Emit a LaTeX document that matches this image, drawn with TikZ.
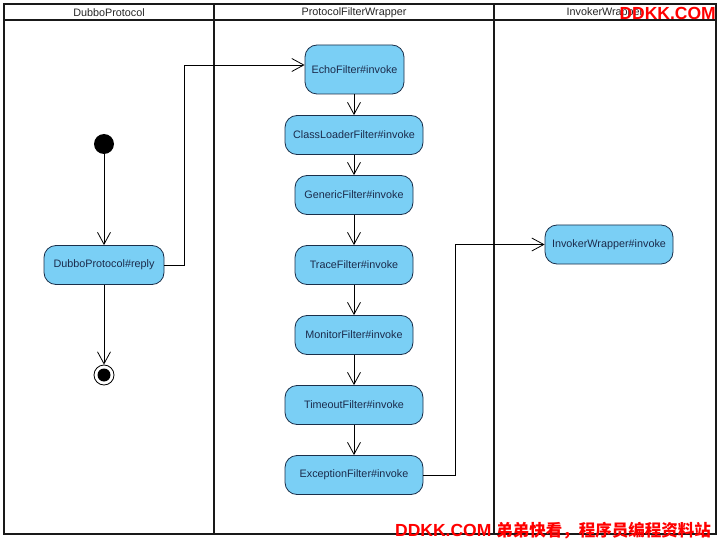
\documentclass[tikz,border=0pt]{standalone}
\usepackage{fontspec}
\setmainfont{Liberation Sans}
\newfontfamily\cjk{Noto Sans CJK SC}
\usetikzlibrary{arrows.meta}
\definecolor{actfill}{HTML}{7ACFF5}
\definecolor{actdraw}{HTML}{1A2F4A}
\definecolor{acttext}{HTML}{1B2B4B}
\definecolor{wm}{HTML}{FF0000}
\begin{document}
\begin{tikzpicture}[x=1pt,y=-1pt,
  act/.style={draw=actdraw, fill=actfill, rounded corners=12pt, line width=0.8pt,
    text=acttext, font=\fontsize{10.8}{12}\selectfont, inner sep=0pt, minimum height=39pt},
  flow/.style={draw=black, line width=0.8pt, -{Straight Barb[length=12pt,width=13pt]}},
  lane/.style={line width=2pt, draw=black!90},
  hdr/.style={font=\fontsize{10.8}{12}\selectfont, text=black!85, inner sep=0pt},
  wmark/.style={font=\fontsize{17.5}{20}\selectfont\bfseries, text=wm, inner sep=0pt}]
\useasboundingbox (0,0) rectangle (720,540);
\fill[white] (0,0) rectangle (720,540);
% swimlanes
\draw[lane] (4,4) rectangle (716,534);
\draw[lane] (4,20) -- (716,20);
\draw[lane] (214,4) -- (214,534);
\draw[lane] (494,4) -- (494,534);
\node[hdr] (h1) at (109,12.5) {DubboProtocol};
\node[hdr] (h2) at (354,12.5) {ProtocolFilterWrapper};
\node[hdr] (h3) at (605,12.5) {InvokerWrapper};
% DubboProtocol lane
\node[circle, fill=black, minimum size=20pt, inner sep=0pt] (start) at (104,144) {};
\node[act, minimum width=120pt] (reply) at (104,265) {DubboProtocol\#reply};
\node[circle, draw=black, line width=0.8pt, fill=white, minimum size=20pt, inner sep=0pt] (end) at (104,375) {};
\node[circle, fill=black, minimum size=13pt, inner sep=0pt] (endin) at (end) {};
% ProtocolFilterWrapper lane
\node[act, minimum width=99pt, minimum height=49pt] (echo) at (354.5,69.5) {EchoFilter\#invoke};
\node[act, minimum width=138pt] (cl) at (354,135) {ClassLoaderFilter\#invoke};
\node[act, minimum width=118pt] (gen) at (354,195) {GenericFilter\#invoke};
\node[act, minimum width=118pt] (trace) at (354,265) {TraceFilter\#invoke};
\node[act, minimum width=118pt] (mon) at (354,335) {MonitorFilter\#invoke};
\node[act, minimum width=138pt] (tmo) at (354,405) {TimeoutFilter\#invoke};
\node[act, minimum width=138pt] (exc) at (354,475) {ExceptionFilter\#invoke};
% InvokerWrapper lane
\node[act, minimum width=128pt] (inv) at (609,244.5) {InvokerWrapper\#invoke};
% connectors
\draw[flow] (start) -- (reply);
\draw[flow] (reply) -- (end);
\draw[flow] (reply.east) -- ++(20,0) |- ([yshift=4.5pt]echo.west);
\draw[flow] (echo.south -| cl.north) -- (cl.north);
\draw[flow] (cl) -- (gen);
\draw[flow] (gen) -- (trace);
\draw[flow] (trace) -- (mon);
\draw[flow] (mon) -- (tmo);
\draw[flow] (tmo) -- (exc);
\draw[flow] (exc.east) -- ++(32,0) |- (inv.west);
% watermarks
\node[wmark, anchor=base east] (wmtop) at (716,20) {DDKK.COM};
\node[wmark, anchor=base west] (wmbot) at (395,536) {DDKK.COM\hspace{5pt}{\cjk\fontsize{16.5}{20}\selectfont\bfseries 弟弟快看，程序员编程资料站}};
\end{tikzpicture}
\end{document}
